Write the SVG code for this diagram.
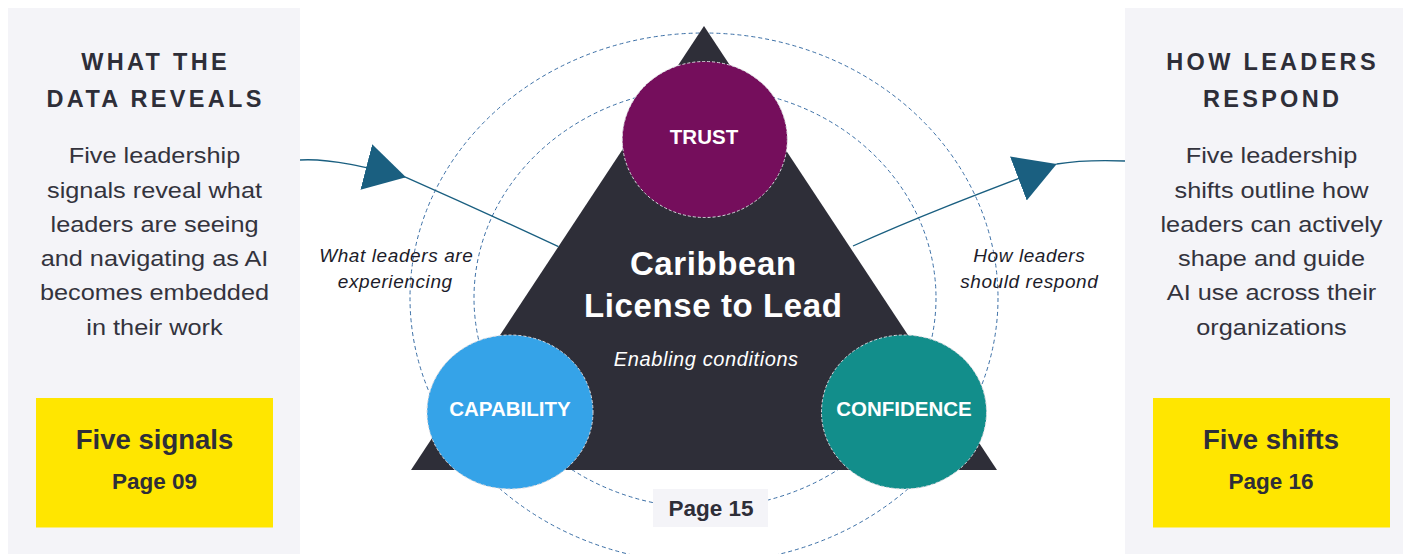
<svg xmlns="http://www.w3.org/2000/svg" width="1403" height="554" viewBox="0 0 1403 554">
  <defs>
    <style>
      text { font-family: "Liberation Sans", Arial, sans-serif; }
      .panel { fill: #f4f4f8; }
      .cta { fill: #ffe600; }
      .head { font-weight: 700; font-size: 23.5px; letter-spacing: 3.3px; fill: #2e2e38; text-anchor: middle; }
      .body { font-size: 22px; fill: #33333d; text-anchor: middle; }
      .cta-title { font-weight: 700; font-size: 27.5px; fill: #2e2e38; text-anchor: middle; }
      .cta-page { font-weight: 700; font-size: 22.5px; fill: #2e2e38; text-anchor: middle; }
      .ring { fill: none; stroke: #3b6fa6; stroke-width: 1; stroke-dasharray: 4 3; }
      .link { fill: none; stroke: #1a5f80; stroke-width: 1.3; }
      .pillar-shape { stroke: #d8d8de; stroke-width: 1; stroke-dasharray: 3 2; }
      .pillar { font-weight: 700; font-size: 20.5px; fill: #ffffff; text-anchor: middle; }
      .note { font-style: italic; font-size: 19px; letter-spacing: 0.6px; fill: #1c1c2a; text-anchor: middle; }
      .title { font-weight: 700; font-size: 33px; letter-spacing: 0.6px; fill: #ffffff; text-anchor: middle; }
      .subtitle { font-style: italic; font-size: 20px; letter-spacing: 0.6px; fill: #ffffff; text-anchor: middle; }
    </style>
    <marker id="arrowhead" markerUnits="userSpaceOnUse" viewBox="0 0 42 47" markerWidth="42" markerHeight="47" refX="41" refY="23.5" orient="auto">
      <path d="M0,0 L41,23.5 L0,47 Z" fill="#1a5f80"/>
    </marker>
  </defs>

  <!-- left side panel -->
  <g id="panel-data">
    <rect class="panel" x="8" y="8" width="292" height="546"/>
    <text class="head" x="155.6" y="70">WHAT THE</text>
    <text class="head" x="155.6" y="106.7">DATA REVEALS</text>
    <!-- body copy is set slightly wide -->
    <g transform="translate(154.5 0) scale(1.15 1)">
      <text class="body" x="0" y="163.3">Five leadership</text>
      <text class="body" x="0" y="197.6">signals reveal what</text>
      <text class="body" x="0" y="231.9">leaders are seeing</text>
      <text class="body" x="0" y="266.2">and navigating as AI</text>
      <text class="body" x="0" y="300.5">becomes embedded</text>
      <text class="body" x="0" y="334.8">in their work</text>
    </g>
    <rect class="cta" x="36" y="398" width="237" height="129.5"/>
    <text class="cta-title" x="154.5" y="449">Five signals</text>
    <text class="cta-page" x="154.5" y="489">Page 09</text>
  </g>

  <!-- right side panel -->
  <g id="panel-response">
    <rect class="panel" x="1125" y="8" width="278" height="546"/>
    <text class="head" x="1272.6" y="70">HOW LEADERS</text>
    <text class="head" x="1272.6" y="106.7">RESPOND</text>
    <g transform="translate(1271.5 0) scale(1.15 1)">
      <text class="body" x="0" y="163.3">Five leadership</text>
      <text class="body" x="0" y="197.6">shifts outline how</text>
      <text class="body" x="0" y="231.9">leaders can actively</text>
      <text class="body" x="0" y="266.2">shape and guide</text>
      <text class="body" x="0" y="300.5">AI use across their</text>
      <text class="body" x="0" y="334.8">organizations</text>
    </g>
    <rect class="cta" x="1153" y="398" width="237" height="129.5"/>
    <text class="cta-title" x="1271" y="448.5">Five shifts</text>
    <text class="cta-page" x="1271" y="488.5">Page 16</text>
  </g>

  <!-- dashed orbit rings -->
  <g id="orbits">
    <ellipse class="ring" cx="704" cy="298" rx="294" ry="265"/>
    <ellipse class="ring" cx="705" cy="298" rx="231" ry="210"/>
  </g>

  <!-- central triangle -->
  <g id="license-to-lead">
    <polygon points="704,26 997,470 411,470" fill="#2e2e38"/>
    <text class="title" x="713.3" y="275">Caribbean</text>
    <text class="title" x="713.3" y="317">License to Lead</text>
    <text class="subtitle" x="706.3" y="366">Enabling conditions</text>
  </g>

  <!-- connectors between panels and triangle -->
  <g id="connectors">
    <path class="link" d="M300,160 C330,158 370,168 406,177.3" marker-end="url(#arrowhead)"/>
    <path class="link" d="M406,177.3 Q480,210 558.5,246.7"/>
    <path class="link" d="M853,246 C915,218 975,195 1056.7,164" marker-end="url(#arrowhead)"/>
    <path class="link" d="M1056.7,164 C1075,161 1100,160 1125,161"/>
  </g>

  <g id="label-experiencing">
    <text class="note" x="396.3" y="262">What leaders are</text>
    <text class="note" x="395.3" y="288">experiencing</text>
  </g>
  <g id="label-respond">
    <text class="note" x="1029.3" y="262">How leaders</text>
    <text class="note" x="1029.3" y="288">should respond</text>
  </g>

  <!-- three pillars -->
  <g id="trust">
    <ellipse class="pillar-shape" cx="704.8" cy="139.5" rx="82.5" ry="78" fill="#750e5c"/>
    <text class="pillar" x="704" y="143.5">TRUST</text>
  </g>
  <g id="capability">
    <ellipse class="pillar-shape" cx="510" cy="412" rx="83" ry="77" fill="#35a3e8"/>
    <text class="pillar" x="510" y="416">CAPABILITY</text>
  </g>
  <g id="confidence">
    <ellipse class="pillar-shape" cx="904" cy="412" rx="82.5" ry="77" fill="#128e8b"/>
    <text class="pillar" x="904" y="416">CONFIDENCE</text>
  </g>

  <!-- page reference tag -->
  <g id="page-15">
    <rect x="653" y="489" width="115" height="38" fill="#f4f4f8"/>
    <text class="cta-page" x="711" y="515.5">Page 15</text>
  </g>
</svg>
